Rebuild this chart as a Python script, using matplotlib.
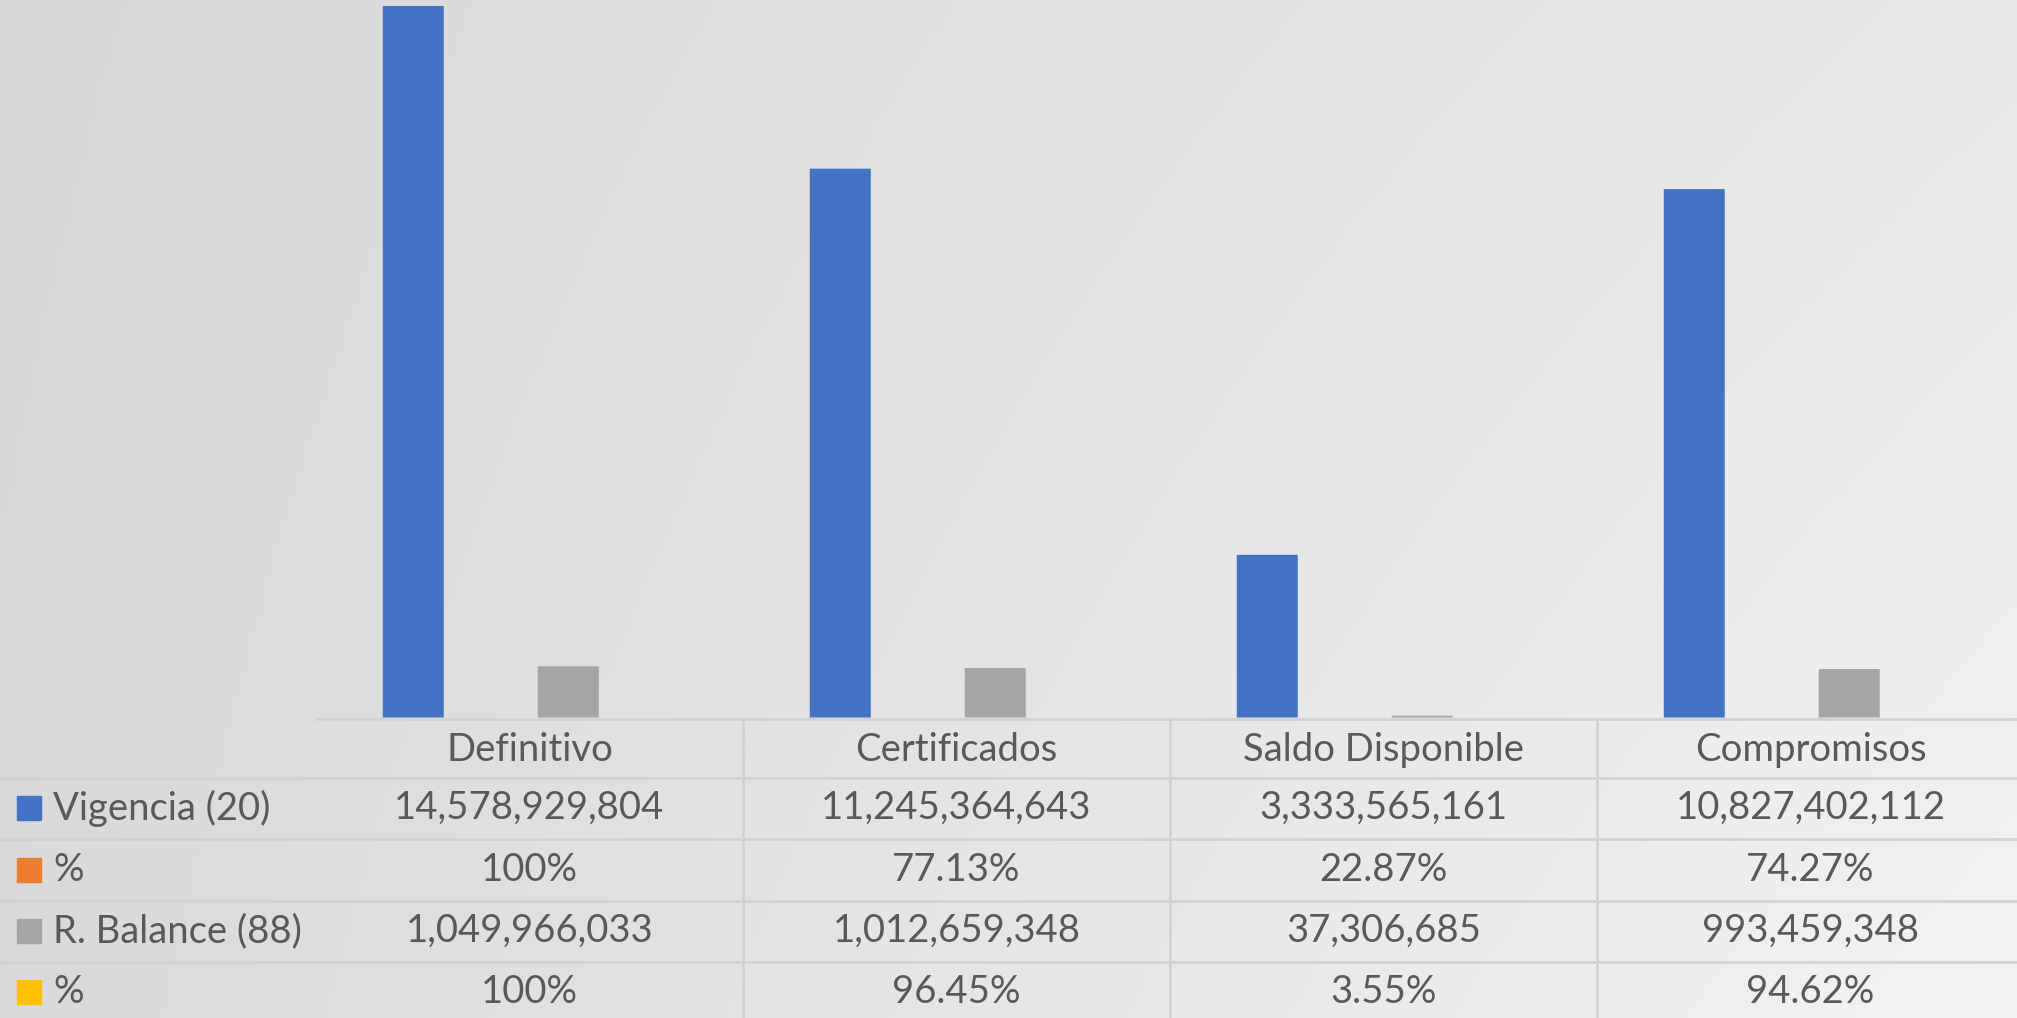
import numpy as np
import matplotlib.pyplot as plt
import matplotlib.transforms as mtransforms
from matplotlib.patches import Rectangle

plt.rcParams['font.family'] = ['Lato', 'DejaVu Sans']

# ------------------------------------------------------------
# Data
# ------------------------------------------------------------
categories = ["Definitivo", "Certificados", "Saldo Disponible", "Compromisos"]
series_names = ["Vigencia (20)", "%", "R. Balance (88)", "%"]
vigencia = [14578929804, 11245364643, 3333565161, 10827402112]
vigencia_pct = [1.0, 0.7713, 0.2287, 0.7427]
balance = [1049966033, 1012659348, 37306685, 993459348]
balance_pct = [1.0, 0.9645, 0.0355, 0.9462]
pct_labels_v = ["100%", "77.13%", "22.87%", "74.27%"]
pct_labels_b = ["100%", "96.45%", "3.55%", "94.62%"]

series = [vigencia, vigencia_pct, balance, balance_pct]
colors = ["#4472C4", "#ED7D31", "#A5A5A5", "#FFC000"]
text_color = "#595959"
line_color = "#d2d2d2"

W, H = 2017, 1018
fig = plt.figure(figsize=(W / 100, H / 100), dpi=100)

# soft grey gradient background
bg = fig.add_axes([0, 0, 1, 1], zorder=0)
gx, gy = np.meshgrid(np.linspace(0, 1, 400), np.linspace(0, 1, 200))
shade = 216 + 17 * gx + 2 * gy + 8 * gx * gy
bg.imshow(np.dstack([shade] * 3) / 255.0, extent=(0, W, H, 0), aspect="auto")
bg.set_xlim(0, W)
bg.set_ylim(H, 0)
bg.axis("off")

# plot area in pixels
left, cat_w, base_y = 316, 427, 717.5
ax = fig.add_axes([left / W, 1 - base_y / H, 4 * cat_w / W, base_y / H], zorder=1)
ax.patch.set_alpha(0)

x = np.arange(len(categories))
slot = 77.5 / cat_w
bar_w = 61 / cat_w
for i, (vals, col) in enumerate(zip(series, colors)):
    # no snapping, so the tiny percentage bars stay invisible like in Excel
    ax.bar(x + (i - 1.5) * slot + 0.5, vals, width=bar_w, color=col,
           linewidth=0, snap=False, zorder=2)

ax.set_xlim(0, len(categories))
ax.set_ylim(0, max(vigencia) * base_y / (base_y - 6))
ax.axis("off")

# data table under the chart
over = fig.add_axes([0, 0, 1, 1], zorder=2)
over.patch.set_alpha(0)
over.set_xlim(0, W)
over.set_ylim(H, 0)
over.axis("off")
tr = mtransforms.blended_transform_factory(ax.transData, over.transData)

row_lines = [719, 778, 839, 901, 962]
over.plot([left, W], [row_lines[0]] * 2, color=line_color, lw=2)
for y in row_lines[1:]:
    over.plot([0, W], [y, y], color=line_color, lw=2)
for i in range(1, len(categories)):
    over.plot([left + i * cat_w] * 2, [row_lines[0], H], color=line_color, lw=2)

fs = 27.5
header_y = 750
row_y = [808, 870, 931, 992]
for i, cat in enumerate(categories):
    ax.text(i + 0.5, header_y, cat, transform=tr, ha="center", va="center",
            fontsize=fs, color=text_color)

rows = [
    [f"{v:,}" for v in vigencia],
    pct_labels_v,
    [f"{v:,}" for v in balance],
    pct_labels_b,
]
for r, (name, col, labels) in enumerate(zip(series_names, colors, rows)):
    y = row_y[r]
    over.add_patch(Rectangle((17, y - 12), 24, 24, color=col))
    over.text(53, y, name, ha="left", va="center", fontsize=fs, color=text_color)
    for i, lab in enumerate(labels):
        ax.text(i + 0.5, y, lab, transform=tr, ha="center", va="center",
                fontsize=fs, color=text_color)

fig.savefig("out.png", dpi=100)
